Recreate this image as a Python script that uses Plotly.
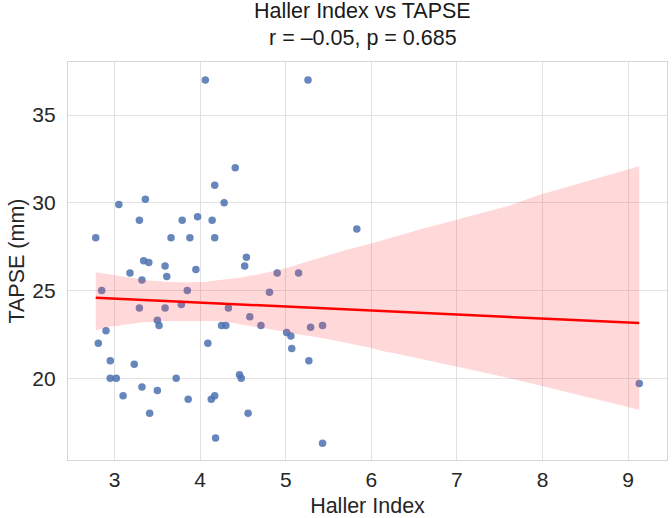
import numpy as np
import plotly.graph_objects as go

haller = [4.06, 4.41, 4.17, 3.05, 3.36, 4.28, 3.29, 3.79, 3.97, 4.14,
          2.78, 3.66, 3.88, 4.17, 4.54, 4.52, 3.34, 3.40, 3.59, 3.95,
          3.18, 3.61, 3.32, 2.85, 3.85, 3.29, 3.59, 3.78, 4.33, 4.58,
          3.50, 3.52, 4.25, 4.30, 2.90, 2.81, 4.09, 2.95, 3.23, 2.95,
          3.02, 3.72, 4.46, 4.48, 3.32, 3.50, 3.10, 3.86, 4.13, 4.17,
          3.41, 4.56, 4.18, 4.90, 5.15, 4.81, 4.71, 5.01, 5.06, 5.07,
          5.29, 5.43, 5.27, 5.43, 5.26, 5.83, 9.13]
tapse = [37.0, 32.0, 31.0, 29.9, 30.2, 30.0, 29.0, 29.0, 29.2, 29.0,
         28.0, 28.0, 28.0, 28.0, 26.9, 26.4, 26.7, 26.6, 26.4, 26.2,
         26.0, 25.8, 25.6, 25.0, 25.0, 24.0, 24.0, 24.2, 24.0, 23.5,
         23.3, 23.0, 23.0, 23.0, 22.7, 22.0, 22.0, 21.0, 20.8, 20.0,
         20.0, 20.0, 20.2, 20.0, 19.5, 19.3, 19.0, 18.8, 18.8, 19.0,
         18.0, 18.0, 16.6, 26.0, 26.0, 24.9, 23.0, 22.6, 22.4, 21.7,
         22.9, 23.0, 21.0, 16.3, 37.0, 28.5, 19.7]

title_line1 = "Haller Index vs TAPSE"
title_line2 = "r = \u20130.05, p = 0.685"
x_ticks = [3, 4, 5, 6, 7, 8, 9]
y_ticks = [20, 25, 30, 35]

x = np.array(haller)
y = np.array(tapse)
n = len(x)
slope, intercept = np.polyfit(x, y, 1)
xs = np.linspace(x.min(), x.max(), 100)
ys = intercept + slope * xs

# seaborn-style bootstrap confidence band (95%)
rng = np.random.default_rng(1)
boots = []
for _ in range(1000):
    idx = rng.integers(0, n, n)
    b1, b0 = np.polyfit(x[idx], y[idx], 1)
    boots.append(b0 + b1 * xs)
boots = np.array(boots)
lower = np.percentile(boots, 2.5, axis=0)
upper = np.percentile(boots, 97.5, axis=0)

fig = go.Figure()
fig.add_trace(go.Scatter(x=x, y=y, mode="markers",
                         marker=dict(color="#4C72B0", size=7.5, opacity=0.85),
                         showlegend=False, hoverinfo="skip"))
fig.add_trace(go.Scatter(x=np.concatenate([xs, xs[::-1]]),
                         y=np.concatenate([upper, lower[::-1]]),
                         fill="toself", fillcolor="rgba(255,60,70,0.2)",
                         line=dict(width=0), mode="lines",
                         showlegend=False, hoverinfo="skip"))
fig.add_trace(go.Scatter(x=xs, y=ys, mode="lines",
                         line=dict(color="#FF0000", width=2.5),
                         showlegend=False, hoverinfo="skip"))

font = "Liberation Sans, Arial, sans-serif"
fig.update_layout(
    width=672, height=518,
    margin=dict(l=68, r=4, t=62, b=56),
    paper_bgcolor="white", plot_bgcolor="white",
    font=dict(family=font, color="#262626", size=21),
    annotations=[
        dict(text=title_line1, x=0.492, xref="paper", xanchor="center",
             y=1.093, yref="paper", yanchor="bottom", showarrow=False,
             font=dict(size=21.5, color="#1a1a1a")),
        dict(text=title_line2, x=0.492, xref="paper", xanchor="center",
             y=1.026, yref="paper", yanchor="bottom", showarrow=False,
             font=dict(size=21.5, color="#1a1a1a")),
    ],
)
fig.update_xaxes(range=[2.456, 9.454], tickvals=x_ticks, showgrid=True,
                 gridcolor="#e1e1e1", gridwidth=1, zeroline=False,
                 showline=True, linecolor="#d6d6d6", mirror=True, linewidth=1.2,
                 ticks="", tickfont=dict(size=21), ticklabelstandoff=1,
                 title=dict(text="Haller Index", font=dict(size=21.5), standoff=8))
fig.update_yaxes(range=[15.34, 38.02], tickvals=y_ticks, showgrid=True,
                 gridcolor="#e1e1e1", gridwidth=1, zeroline=False,
                 showline=True, linecolor="#d6d6d6", mirror=True, linewidth=1.2,
                 ticks="", tickfont=dict(size=21), ticklabelstandoff=7,
                 title=dict(text="TAPSE (mm)", font=dict(size=21.5), standoff=1))

fig.write_html("out.html")
